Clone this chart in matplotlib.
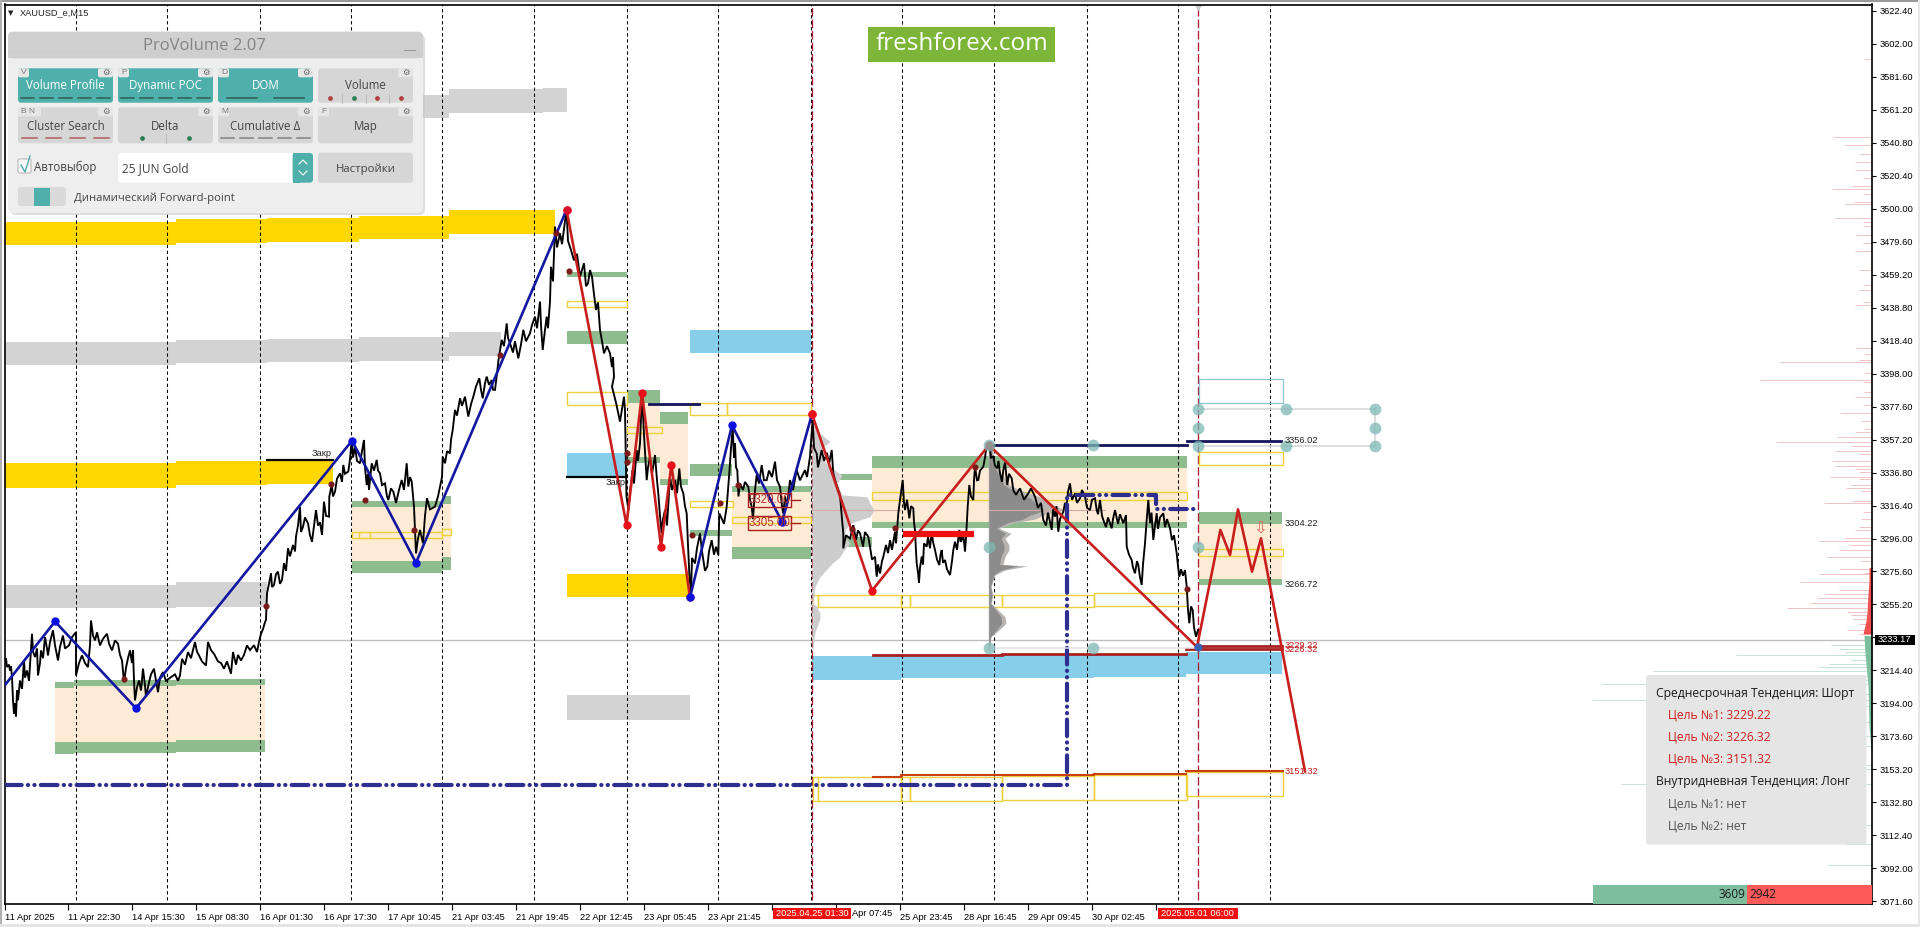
import matplotlib
matplotlib.use("Agg")
import matplotlib.pyplot as plt
from matplotlib.patches import Rectangle, FancyBboxPatch

plt.rcParams['font.family'] = ['Liberation Sans', 'DejaVu Sans']
W, H = 1920, 927

# ---------- data: (bar, price) -------------------------------------------------
trace_a = [(4.5,3219.6),(6,3222),(7,3216.5),(9,3218),(10,3214.4),(11,3217),(12,3210.3),(13,3196),(14,3187.6),(15,3194),(16,3186),(17,3202),(18,3196),(20,3208.2),(22,3203),(24,3220.6),(25,3210),(27,3214.4),(29,3208),(32,3237.1),(33,3226),(35,3222.7),(37,3228),(38,3211.3),(40,3219),(41,3226.8),(43,3222),(45,3235),(47,3228),(48,3223.7),(50,3232),(53,3239.2),(55,3230),(58,3220.6),(60,3229),(63,3236),(65,3228),(69,3229.9),(72,3235),(76,3238.1),(76,3211.3),(79,3219),(82,3223.7),(85,3219),(88,3216.5),(90,3230),(91,3245.3),(93,3236),(95,3233),(97,3238),(100,3229.9),(103,3234),(107,3237.1),(109,3231),(112,3226.8),(115,3233),(118,3230.9),(120,3224),(122,3220.6),(124,3207.2),(126,3216),(128,3222),(130,3226.8),(132,3219),(133,3226.8),(134,3208),(135,3195.9),(137,3204),(139,3208.2),(141,3202),(143,3215.5),(145,3205),(146,3198),(149,3207),(151,3212),(154,3215.5),(156,3208),(158,3201),(160,3210),(163,3213.4),(166,3208),(171,3210.3),(175,3212),(178,3208),(180,3211.3),(182,3221.6),(185,3218),(188,3225.8),(191,3222),(195,3232),(197,3226),(199,3223.7),(202,3220),(206,3217.5),(208,3232),(211,3227),(214,3224.7),(218,3220),(221,3219),(224,3215.5),(227,3220),(231,3212.4),(233,3225.8),(236,3218),(238,3224),(241,3220.6),(244,3224),(247,3229.9),(250,3227),(254,3230),(257,3225.8),(259,3232),(261,3237.1),(263,3240),(265,3244.3)]
trace_b = [(266,3245.6),(267,3262.1),(269,3268),(271,3274.5),(272,3266),(274,3267.3),(276,3274),(278,3275.5),(280,3268),(282,3270.4),(284,3280.7),(286,3276),(288,3290),(290,3285),(293,3292),(295,3288),(296,3297.2),(298,3304),(300,3315.7),(301,3300),(303,3303.3),(305,3309),(308,3305.4),(310,3298),(312,3294),(314,3304),(316,3313.6),(318,3304),(320,3306),(322,3298.2),(324,3318.8),(326,3310),(329,3309.5),(329.3,3321.9),(331.7,3329.1),(333,3322),(335,3325),(337,3333),(340,3336.3),(342,3331),(343.3,3341.5),(345,3336),(348.3,3337.4),(350,3345),(351.7,3356.9),(353,3346),(355,3352.8),(357,3344),(360,3342.5),(362,3350),(364,3356.9),(365,3340),(366.7,3329.1),(368,3336),(369,3326),(371.7,3342.5),(374,3338),(376.7,3344.6),(378,3338),(380,3336.3),(382,3329),(385,3330.1),(387,3322),(388.3,3319.8),(391,3327),(393.3,3325),(396,3318),(399,3326),(401.7,3332.2),(404,3326),(406.7,3342.5),(408.3,3328.1),(410,3334),(411.7,3331.2),(413,3322),(414,3315.7),(416,3286.8),(418,3296),(420,3301.3),(423,3293),(425,3310),(427,3320.9),(430,3314),(435,3315.7),(438,3322),(440,3328),(442,3334),(442.7,3346.6),(445,3342.5),(447,3350),(450,3348.7),(451,3357),(452.7,3363.1),(455,3375.5),(457,3372),(460,3382.7),(462,3378),(465,3383.7),(467,3376),(468.3,3371.4),(471,3379),(473.3,3383.7),(476,3390),(479.3,3395.1),(481,3388),(482.7,3382.7),(485,3392),(486.7,3396.1),(489,3391),(491.7,3394),(493,3388),(495,3387.9),(497,3398),(498.3,3405.4),(500,3412),(501.7,3418.8),(504,3415),(506.7,3429),(508,3420),(510,3416.7),(513,3411),(515,3418),(518.3,3407.4),(521,3416),(523.3,3425),(526,3418),(530,3422.9),(532,3428),(535,3433.2),(537,3426),(540,3442.5),(541,3428),(542.7,3412.6),(545,3425),(546.7,3433.2),(548,3426),(550,3442.5)]
trace_c = [(551,3464),(553,3455),(555,3488.9),(557,3476),(560,3484.7),(562,3478),(566.5,3499.2),(568,3480),(571,3474.4),(574,3468),(577,3472),(580,3457.9),(582,3462),(584,3466.2),(586,3452),(588,3453.8),(590,3462),(592,3457.9),(594,3447),(596,3437.3),(598,3442),(600,3425),(602,3418),(604,3410.5),(607,3415),(610,3410.5),(612,3402),(613,3408),(614,3396),(612,3389.9),(616,3380),(620,3368.3),(622,3376),(624,3383.7),(625,3375),(626.5,3321.9),(628.5,3313.6),(630,3325),(632.6,3338.4),(634,3330),(636.7,3350.7),(638,3344),(640,3354.9),(642,3385.8),(644,3360),(646.7,3332.1),(648,3340),(650,3346.6),(652,3336),(655,3347.6),(657,3332),(658.3,3323.9),(660,3310),(661.7,3299.2),(663,3308),(665,3313.6),(667,3304),(670,3334.2),(672,3326),(675,3332.1),(677,3324),(679.3,3339.3),(681,3328),(683.3,3323.9),(685,3316),(686.7,3311.5),(688,3292),(689.3,3274.4),(691,3262),(692,3284),(695,3280.6),(697,3290),(700,3299.2),(702,3288),(703.3,3282.7),(705,3276),(707.3,3278.6),(709,3288),(711.7,3295),(714,3286),(716,3290.9),(718.3,3285.8),(719.3,3311.5),(721.7,3308.4),(724,3305),(726.7,3315.6),(728,3326),(729.3,3336.3),(731,3352),(732.7,3364),(734,3346),(735,3354.8),(736,3340),(737.3,3338.3),(738.5,3322),(740,3330),(743,3326),(745,3331),(748.3,3328),(750,3320),(751.7,3315.6),(753,3308),(755,3326),(756.7,3335.2),(759,3330),(761.7,3341.4),(764,3332),(766.7,3332.1),(769,3338),(772,3334),(775,3343.5),(777,3332),(780,3328),(782,3316),(783.3,3311.5),(785,3322),(787,3316),(790,3332.1),(793,3326),(796.7,3338.3),(800,3332),(805,3338.3),(807,3334),(810,3346.6),(811,3356),(812.7,3369.2),(814,3352),(816.7,3348.6),(818,3340),(821.7,3350.7),(824,3344),(827,3349),(829,3342),(831.7,3350.7),(833.3,3336.3),(836,3330),(840,3322.9),(842,3308),(843.3,3299.2),(843.3,3289.9),(846,3298),(850,3296),(853.3,3304.3),(856,3295),(858,3301),(860,3299.2),(863,3291),(865,3300),(868.3,3297.1),(870,3290.9),(872,3283),(875,3284.7),(876.7,3272.4),(878,3280),(880,3274.4),(882,3282),(883.3,3284.7),(886,3292),(888,3287),(890,3295),(892,3289),(895,3300.2),(896,3293),(898.3,3311.5),(900,3319.8)]
trace_d = [(902.7,3332.2),(904,3318),(905,3313.6),(907,3320),(909.3,3308.5),(911,3316),(913.3,3314.7),(914,3306),(915,3301.3),(916,3288),(916.7,3280.7),(918,3275),(919,3268.7),(920,3278),(921.7,3284.8),(923,3280),(924,3293),(926.7,3291),(928,3297),(930,3290),(931.7,3300.2),(933,3294),(935,3288.9),(937,3283),(939.3,3279.6),(940.5,3286),(941.7,3288.9),(943,3281),(945,3282.7),(947,3277),(950,3273.4),(952,3282),(953.3,3288.9),(955,3294),(957,3289),(959.3,3301.3),(960.5,3294),(961.7,3295.1),(963,3300),(965,3287.9),(966,3296),(967.7,3315.7),(969.3,3329.1),(971,3322),(973.3,3319.8),(974,3332),(975,3340.4),(977,3332),(978.3,3332.2),(980,3338),(983.3,3340.4),(985,3346),(986,3350.7),(989.3,3354.9),(991,3346),(993.3,3346.6),(995,3341),(997.3,3339.4),(998.5,3344),(1000,3336.3),(1002,3331),(1003.3,3338.4),(1005,3343),(1007.3,3329.1),(1009,3336),(1011.7,3333.2),(1013.3,3326),(1016,3323),(1020,3327),(1024,3320),(1028.3,3323.9),(1031,3327),(1035,3321.9),(1038,3315),(1041,3318),(1043.3,3307.5),(1046,3304),(1048,3312),(1051.7,3301.3),(1053,3314),(1055,3309.5),(1056.5,3316),(1058.3,3300.2),(1060,3308),(1063.3,3312.6),(1065,3318),(1066.7,3316.7),(1068,3325),(1070,3330.1),(1072,3320),(1075,3323.9),(1077,3318),(1080,3320.9),(1082,3326),(1085,3321.9),(1087,3315),(1090,3313.6),(1092,3320),(1095,3320.9),(1096.7,3313.6),(1098,3311),(1100,3319.8),(1102,3310),(1103.3,3307.5),(1106,3303),(1108,3309),(1111.7,3302.3),(1113,3308),(1115,3313.6),(1118,3305),(1120,3311),(1123.3,3305.4),(1126,3310.5),(1126.7,3291),(1129,3286),(1131.7,3282.7),(1133,3278),(1135,3274.5),(1137,3282),(1138.3,3279.6),(1140,3272),(1141.7,3267.3),(1143,3280),(1145,3293),(1146.5,3306),(1148.3,3319.8),(1150,3305.4),(1151.5,3312),(1153.3,3295.1),(1155,3304),(1156.7,3311.6),(1158,3302),(1160,3309),(1163.3,3311.6),(1165,3303),(1167,3308),(1170,3302.3),(1172,3295),(1174,3298),(1176.7,3286.8),(1178,3279),(1179.3,3272.4),(1181,3277),(1183,3273),(1185,3276.5),(1186.7,3266.2),(1188,3252),(1189.3,3243.6),(1191,3254),(1192.7,3251.8),(1194,3241),(1196,3235.3),(1198,3239.4)]
price_trace = trace_a + trace_b + trace_c + trace_d
price_bars = [t[0] for t in price_trace]
price_vals = [t[1] for t in price_trace]

red_zz_bars = [566.5,626.5,642,661,671.4,690]
red_zz_vals = [3499.2,3304.4,3385.8,3291,3341.5,3259.6]
red_zz2_bars = [812,872,989,1197,1220.4,1230,1238,1252,1261,1305]
red_zz2_vals = [3373,3263.8,3353.8,3228.9,3301.3,3285.8,3314,3275.5,3296.1,3152]
blue_zz_bars = [4.5,55,136,352,416,566.5]
blue_zz_vals = [3205,3244.7,3191,3356.5,3281,3499.2]
blue_zz2_bars = [690,732,782,812]
blue_zz2_vals = [3259.6,3366,3306.4,3373]

gold_bands = [(4.5,175.5,3477.5,3492),(175.5,267,3479,3493.4),(267,359,3479.6,3494),(359,449,3481,3495.4),(449,555,3484.3,3499.2),
              (4.5,175.5,3327.5,3342.5),(175.5,267,3329.1,3344),(267,333,3329.7,3344.1),(567,689,3259.6,3274)]
gray_bands = [(423,449,3555.8,3570.3),(449,543,3559.3,3573.8),(543,566.5,3560,3574.4),
              (4.5,175.5,3403.3,3417.7),(175.5,267,3404.3,3418.8),(267,359,3405,3419.4),(359,449,3406,3420.4),(449,501,3409.1,3423.5),
              (4.5,175.5,3252.8,3267.3),(175.5,267,3253.9,3268.9),(567,690,3183.9,3199.2)]
blue_bands = [(567,627,3334.3,3348.7),(690,811,3410.5,3425),(812,901,3208.7,3223.3),(901,1094,3209.7,3224.1),(1094,1186,3210.3,3224.7),(1186,1282,3212,3225.8)]
peach_bands = [(55,74,3170.1,3203.5),(74,175.5,3170.1,3204.7),(175.5,264.5,3171.1,3205.4),(352,442,3282.1,3315.7),(442,451,3284.8,3317.1),
               (626.5,660,3346.6,3380),(660,688,3332.8,3366.8),(732,811,3291,3325),(872,1187,3306.4,3339.4),(1198.5,1282,3270.8,3305)]
green_bands = [(55,74,3203.5,3207.2),(74,175.5,3204.7,3208.2),(175.5,264.5,3205.4,3209),(55,74,3162.9,3170.1),(74,175.5,3163.5,3170.1),(175.5,264.5,3164.1,3171.1),
               (352,442,3315.7,3319.2),(442,451,3317.1,3322.3),(352,442,3274.9,3282.1),(442,451,3276.5,3284.8),
               (567,626.5,3416.5,3424.3),(567,626.5,3458,3461),(626.5,660,3380,3387.8),(660,688,3366.8,3374.4),(626.5,660,3342.9,3346.6),(660,688,3329.1,3332.8),
               (690,732,3334.9,3342),(690,732,3297.6,3301.3),(732,811,3325,3328.5),(732,811,3283.3,3291),(824,872,3332.2,3335.9),(842,872,3291,3297),
               (872,1187,3339.4,3347.2),(872,1187,3302.3,3306.4),(1198.5,1282,3305,3312.2),(1198.5,1282,3267.3,3270.8)]
yellow_boxes = [(567,626.5,3439,3442.9),(567,626.5,3378.6,3386.4),(626.5,661.6,3361,3365.2),(352,442,3296.5,3300.2),(359,370,3296.5,3300.2),(442,451,3298,3302),
                (690,726.5,3372.4,3379.6),(726.5,811,3372.4,3379.6),(690,733,3315.7,3319.4),(732,811,3305.4,3309.5),(872,901,3319.8,3324.6),(901,1187,3319.8,3324.6),
                (813,818,3253.5,3261.1),(818,901,3253.5,3261.1),(901,910,3253.5,3261.1),(910,1002.4,3253.5,3261.1),(1002.4,1094,3253.5,3261.1),(1094,1187,3254,3262),
                (1198.5,1283,3341.5,3349.3),(1198.5,1283,3285.4,3289.5),
                (813,818,3133.4,3148.5),(818,901,3133.4,3148.5),(901,910,3133.4,3148.5),(910,1002.4,3133.4,3148.5),(1002.4,1094,3134,3149.3),(1094,1187,3134,3150),(1186,1283,3136.5,3151.6)]
teal_boxes = [(1198.5,1283,3379.6,3394.4)]

dark_red_segments = [(872.6,901,3223.7),(901,1002,3224.1),(1002,1186,3224.7),(1186,1282,3227.4),(1198,1282,3229.5)]
orange_red_segments = [(872.6,901,3148.7),(901,1094,3149.5),(1094,1186,3150.1),(1186,1283,3152)]
navy_segments = [(649,699,3379.4),(991,1187,3354),(1187,1281,3356.3)]
black_segments = [(267,333,3344.6),(567,627,3334)]
dash_dot_bars = [4.5,1066.5,1066.5,1156,1156,1195]
dash_dot_vals = [3143.7,3143.7,3323,3323,3314,3314]
red_bar = (902.5,973.5,3298.8)

teal_dots_x = [989,989,989,1093,1093,1198,1198,1198,1198,1286,1286,1375,1375,1375]
teal_dots_y = [3353.8,3291,3228.2,3353.8,3228.2,3375.9,3364.5,3353.4,3291,3375.9,3353.4,3375.9,3364.5,3353.4]
small_dots_x = [364.5,500,266,331,414,124,626.5,626.5,556,569,692,738,895,975,1187,720,852]
small_dots_y = [3319.6,3409.5,3254.3,3330,3301.3,3208.9,3349,3343,3484.7,3461.6,3298,3329,3302.3,3340.4,3264.6,3317.8,3302]

vline_bars = [75.5,167,259.6,351.4,442,534,626.5,718.4,810.6,902.4,994.3,1086.5,1178.4,1270.2]
red_vline_bars = [811.8,1198.4]
current_price = 3233.17

profile1_p = [3373,3361,3356,3352,3347.6,3342,3335,3330,3323,3321.8,3317.7,3313.6,3309.5,3305.4,3301.2,3297.1,3293,3288.9,3284.7,3280.6,3276.5,3272.4,3266.2,3255.9,3254,3249.7,3246.6,3238,3225]
profile1_w = [0,8,18,10,8,15,30,25,30,55,58,62,58,38,33,33,38,32,28,20,14,8,3,1,5,8,8,3,0]
profile2_p = [3354,3342.5,3336.3,3329.1,3325,3320.9,3316.7,3313.6,3310.5,3307.9,3305.8,3302.3,3299.2,3296.1,3292,3288.9,3284.8,3280,3279,3276.5,3273.4,3266.2,3261,3256,3247.7,3243.6,3239.4,3235.3,3231]
profile2_w = [3,5,12,20,35,55,65,75,55,45,25,10,22,16,20,20,16,14,38,16,6,2,4,2,16,17,10,2,1]
poc_lines = [(812,900,3313.6),(989,1105,3313.6)]

dom_ask_p = [3592.3,3544.1,3539.1,3533.6,3528.6,3523.7,3518.7,3513.8,3512.3,3508.8,3504.3,3502.9,3494,3491.9,3489.3,3483.7,3478.8,3474,3461.9,3452.8,3449.9,3442.1,3440.2,3413.6,3409.9,3404.9,3406.4,3398.1,3393.8,3392.6,3386.8,3383.7,3378.6,3373.8,3368.9,3363.7,3361.7,3358.8,3355.7,3353.2,3349.9,3348.3,3343.7,3340.8,3338.8,3337.3,3334,3332.6,3329.1,3327.4,3325.6,3317.8,3319.2,3312.6,3307.9,3303.3,3301.3,3296.5,3294.3,3292,3288.9,3284.8,3282.3,3277,3273.9,3269,3274.5,3264.2,3261.7,3259,3256,3252.8,3250.8,3248.7,3246.4,3242.9,3239.2,3237]
dom_ask_w = [8,39,27,12,17,17,9,20,40,9,18,27,37,9,9,16,9,17,13,9,13,9,17,16,8,92,13,8,112,9,8,17,9,32,11,8,17,35,96,21,37,13,40,37,17,13,42,13,21,26,11,48,20,9,11,13,17,27,53,23,33,45,11,32,53,72,9,33,47,55,62,85,25,21,19,13,25,13]
dom_bid_p = [3229.9,3227.8,3225.8,3223.7,3220.6,3218.5,3216.5,3214,3210.7,3208.7,3205.8,3200,3195.9,3192.2,3182.5,3173.6,3168,3155.7,3153.6,3143.9,3118.6,3106.8,3093.9]
dom_bid_w = [41,33,27,136,21,43,53,219,21,11,271,21,280,55,37,76,9,11,29,251,47,27,45]
dom_ask_base_p = [3278,3270,3262,3250,3245,3237]
dom_ask_base_w = [3,3,4,5,6,9]
dom_bid_base_p = [3236,3225,3205,3180,3165]
dom_bid_base_w = [8,7,4,3,1]

ytick_vals = [3622.4,3602.0,3581.6,3561.2,3540.8,3520.4,3500.0,3479.6,3459.2,3438.8,3418.4,3398.0,3377.6,3357.2,3336.8,3316.4,3296.0,3275.6,3255.2,3234.8,3214.4,3194.0,3173.6,3153.2,3132.8,3112.4,3092.0,3071.6]
ytick_labels = [f'{v:.2f}' for v in ytick_vals]
xtick_bars = [5,68,132,196,260,324,388,452,516,580,644,708,772,836,900,964,1028,1092,1156]
xtick_labels = ['11 Apr 2025','11 Apr 22:30','14 Apr 15:30','15 Apr 08:30','16 Apr 01:30','16 Apr 17:30','17 Apr 10:45','21 Apr 03:45','21 Apr 19:45','22 Apr 12:45','23 Apr 05:45','23 Apr 21:45','','','25 Apr 23:45','28 Apr 16:45','29 Apr 09:45','30 Apr 02:45','']

right_labels = [(1285,3356.7,'3356.02','#222222'),(1285,3305.4,'3304.22','#222222'),(1285,3267.7,'3266.72','#222222'),(1285,3229.9,'3229.22','#c01a1a'),(1285,3227.2,'3226.32','#c01a1a'),(1285,3152,'3151.32','#c01a1a')]
box_labels = [(769.5,3319.6,'3320.00'),(769.5,3305.4,'3305.00')]
trend_lines = [('Среднесрочная Тенденция: Шорт',0,'#1a1a1a'),('Цель №1: 3229.22',1,'#d02020'),('Цель №2: 3226.32',1,'#d02020'),('Цель №3: 3151.32',1,'#d02020'),('Внутридневная Тенденция: Лонг',0,'#1a1a1a'),('Цель №1: нет',1,'#555555'),('Цель №2: нет',1,'#555555')]
buy_volume, sell_volume = 3609, 2942

# ---------- main chart --------------------------------------------------------
fig = plt.figure(figsize=(W/100, H/100), dpi=100, facecolor='white')
ax = fig.add_axes([4.5/W, 1-904/H, (1872-4.5)/W, (904-4.5)/H])
ax.set_xlim(4.5, 1872)
ax.set_ylim(3070, 3626.2)

def bands(items, color, z):
    for x0, x1, lo, hi in items:
        ax.add_patch(Rectangle((x0, lo), x1-x0, hi-lo, fc=color, ec='none', zorder=z))

bands(peach_bands, '#FDEBD5', 1)
bands(green_bands, '#8FBC8F', 1.2)
bands(gold_bands, '#FFD700', 1.1)
bands(gray_bands, '#D3D3D3', 1.1)
bands(blue_bands, '#87CEEB', 1.1)
for x0, x1, lo, hi in yellow_boxes:
    ax.add_patch(Rectangle((x0, lo), x1-x0, hi-lo, fc='none', ec='#EFD13C', lw=1.0, zorder=2))
for x0, x1, lo, hi in teal_boxes:
    ax.add_patch(Rectangle((x0, lo), x1-x0, hi-lo, fc='none', ec='#8FC5D0', lw=0.9, zorder=2))

ax.vlines(vline_bars, 3072.5, 3626.2, color='black', lw=0.75, linestyles=(0, (3.2, 2.6)), zorder=1.5)
ax.vlines(red_vline_bars, 3072.5, 3626.2, color='#A82035', lw=0.95, linestyles=(0, (6.5, 2.2)), zorder=1.6)
ax.plot(1198.4, 3624.6, marker='v', ms=5, color='#C8C8C8', zorder=1.7)
ax.axhline(current_price, color='#BEBEBE', lw=1, zorder=1.4)

ax.fill_betweenx(profile1_p, 812, [812+w for w in profile1_w], color='#CDCDCD', lw=0, zorder=2.5)
ax.fill_betweenx(profile2_p, 989, [989+w for w in profile2_w], color='#B8B4B2', lw=0, zorder=2.5)
ax.fill_betweenx(profile2_p, 989, [989+w*0.75 for w in profile2_w], color='#8C8C8C', lw=0, zorder=2.55)
ax.plot([989, 989], [3228, 3355], color='#A0A0A0', lw=1, zorder=2.4)
for x0, x1, p in poc_lines:
    ax.plot([x0, x1], [p, p], color='#D8A8A8', lw=0.8, zorder=2.6)

ax.plot(price_bars, price_vals, color='black', lw=1.35, zorder=3, solid_joinstyle='miter')

for x0, x1, p in dark_red_segments:
    ax.plot([x0, x1], [p, p], color='#A82020', lw=2, zorder=3.1)
for x0, x1, p in orange_red_segments:
    ax.plot([x0, x1], [p, p], color='#C8400F', lw=1.5, zorder=3.1)
for x0, x1, p in navy_segments:
    ax.plot([x0, x1], [p, p], color='#14145A', lw=2, zorder=3.1)
for x0, x1, p in black_segments:
    ax.plot([x0, x1], [p, p], color='black', lw=1.6, zorder=3.1)
ax.plot(red_bar[:2], [red_bar[2]]*2, color='#F01010', lw=4.5, zorder=3.2, solid_capstyle='butt')
ax.plot(dash_dot_bars, dash_dot_vals, color='#2E2E90', lw=3, zorder=3.3,
        linestyle=(0, (4, 1.5, 0.05, 1.5, 0.05, 1.5)), dash_capstyle='round')

ax.plot(red_zz_bars, red_zz_vals, color='#C81E1E', lw=1.9, marker='o', ms=5, mfc='#E8101A', mec='#E8101A', zorder=4)
ax.plot(red_zz2_bars[:3], red_zz2_vals[:3], color='#C81E1E', lw=1.9, marker='o', ms=5, mfc='#E8101A', mec='#E8101A', zorder=4)
ax.plot(red_zz2_bars[2:], red_zz2_vals[2:], color='#C81E1E', lw=1.9, zorder=4)
ax.plot(blue_zz_bars, blue_zz_vals, color='#1418A0', lw=1.9, zorder=4.1)
ax.plot(blue_zz_bars[1:-1], blue_zz_vals[1:-1], ls='none', marker='o', ms=5, color='#0A10E0', zorder=4.2)
ax.plot(blue_zz2_bars, blue_zz2_vals, color='#1418A0', lw=1.9, zorder=4.1)
ax.plot(blue_zz2_bars[:-1], blue_zz2_vals[:-1], ls='none', marker='o', ms=5, color='#0A10E0', zorder=4.2)
ax.plot(blue_zz2_bars[-1], blue_zz2_vals[-1], marker='o', ms=5, color='#E8101A', zorder=4.3)
ax.plot(566.5, 3499.2, marker='o', ms=5, color='#D8102A', zorder=4.3)

ax.plot([1198, 1375], [3375.9, 3375.9], color='#D4D4D4', lw=1.1, zorder=4.4)
ax.plot([1198, 1375], [3353.4, 3353.4], color='#D4D4D4', lw=1.1, zorder=4.4)
ax.plot([1375, 1375], [3353.4, 3375.9], color='#D4D4D4', lw=1.1, zorder=4.4)
ax.plot([989, 1198], [3228.2, 3228.2], color='#E2E2E2', lw=1.1, zorder=4.4)
ax.plot(teal_dots_x, teal_dots_y, ls='none', marker='o', ms=8.5, mfc='#7DB9B5', mec='none', alpha=0.75, zorder=5)
ax.plot(1198, 3228.9, marker='o', ms=5, color='#3A62B0', zorder=5.1)
ax.plot(small_dots_x, small_dots_y, ls='none', marker='o', ms=3.4, color='#7A1A1A', zorder=4.5)

ax.hlines(dom_ask_p, [1872-w for w in dom_ask_w], 1872, color='#E08A8A', lw=0.7, alpha=0.5, zorder=2)
ax.hlines(dom_bid_p, [1872-w for w in dom_bid_w], 1872, color='#8CC8AC', lw=0.7, alpha=0.5, zorder=2)
ax.fill_betweenx(dom_ask_base_p, [1872-w for w in dom_ask_base_w], 1872, color='#F25050', lw=0, zorder=2.1)
ax.fill_betweenx(dom_bid_base_p, [1872-w for w in dom_bid_base_w], 1872, color='#7CBF9E', lw=0, zorder=2.1)

for x, p, s, c in right_labels:
    ax.text(x, p, s, fontsize=6.7, color=c, va='center', ha='left', zorder=6)
ax.text(1260, 3303, '⇩', family='DejaVu Sans', fontsize=12, color='#E06A60', ha='center', va='center', zorder=6)
ax.text(322, 3348.5, 'Закр', fontsize=6.7, color='#222222', ha='center', va='center', zorder=6)
ax.text(616, 3330.5, 'Закр', fontsize=6.7, color='#222222', ha='center', va='center', zorder=6)
for x, p, s in box_labels:
    ax.text(x, p, s, fontsize=8.3, color='#B43030', ha='center', va='center', zorder=6,
            bbox=dict(boxstyle='square,pad=0.08', fc='none', ec='#A82020', lw=1))
    ax.plot([790.7, 800], [p, p], color='#A82020', lw=1, zorder=6)

for s in ax.spines.values():
    s.set_linewidth(1.2)
ax.yaxis.tick_right()
ax.set_yticks(ytick_vals)
ax.set_yticklabels(ytick_labels, fontsize=6.7)
ax.tick_params(axis='y', length=3, width=0.8, pad=2.5)
ax.set_xticks(xtick_bars)
ax.set_xticklabels(xtick_labels, fontsize=6.7, ha='left')
ax.tick_params(axis='x', length=4, width=0.8, pad=2.5)

# ---------- overlay in pixel coordinates -------------------------------------
ui = fig.add_axes([0, 0, 1, 1], zorder=10)
ui.set_xlim(0, W); ui.set_ylim(H, 0); ui.axis('off')

def rbox(x0, y0, x1, y1, fc, r=3, ec='none', lw=0, z=1, alpha=None):
    ui.add_patch(FancyBboxPatch((x0, y0), x1-x0, y1-y0, boxstyle=f'round,pad=0,rounding_size={r}', fc=fc, ec=ec, lw=lw, zorder=z, alpha=alpha))
def rect(x0, y0, x1, y1, fc, z=1):
    ui.add_patch(Rectangle((x0, y0), x1-x0, y1-y0, fc=fc, ec='none', zorder=z))
def txt(x, y, s, fs, c='#333333', ha='left', fam='Open Sans', z=5, **kw):
    ui.text(x, y, s, fontsize=fs, color=c, ha=ha, va='center', family=[fam, 'DejaVu Sans'], zorder=z, **kw)

rect(0, 0, W, 1.5, '#9A9A9A'); rect(0, 0, 2, H, '#B0B0B0'); rect(0, 924, W, H, '#E4E4E4'); rect(W-2, 0, W, H, '#E8E8E8')

# time flags and price flag
for x0, x1, s in [(772.6, 851.4, '2025.04.25 01:30'), (1157.5, 1238, '2025.05.01 06:00')]:
    rect(x0, 908, x1, 919, '#F01010', 2)
    ui.text((x0+x1)/2, 913.7, s, fontsize=6.7, color='white', ha='center', va='center', zorder=3)
ui.text(851.8, 913.7, 'Apr 07:45', fontsize=6.7, color='black', ha='left', va='center', zorder=3)
rect(1874.7, 635, 1914.7, 645, 'black', 2)
ui.text(1894.7, 640, f'{current_price:.2f}', fontsize=6.7, color='white', ha='center', va='center', zorder=3)

txt(8, 12.7, '▼', 5, '#222222', fam='DejaVu Sans')
ui.text(19.6, 12.7, 'XAUUSD_e,M15', fontsize=6.7, color='#222222', va='center')

# logo
rect(868, 27, 1055, 61.7, '#7CB538')
txt(961.5, 43.5, 'freshforex.com', 17.5, 'white', ha='center')

# trend panel
rbox(1646, 675, 1866.5, 844.7, '#E4E4E4', z=1, alpha=0.93)
for (s, ind, c), y in zip(trend_lines, [693.7, 715.3, 737, 759.3, 781.3, 803.7, 825.7]):
    txt(1667.8 if ind else 1655.5, y, s, 8.7, c)

# buy / sell bar
rect(1593, 884.7, 1746.5, 904, '#7EBE9C', 2)
rect(1746.5, 884.7, 1872, 904, '#FF5A5A', 2)
txt(1745, 894.5, str(buy_volume), 8.5, '#1a1a1a', ha='right')
txt(1749, 894.5, str(sell_volume), 8.5, '#1a1a1a')

# ProVolume panel
rbox(10, 34, 425, 215, '#C8C8C8', r=6, z=1, alpha=0.6)
rbox(8, 31.7, 423, 213, '#EEEEEE', r=6, z=1.1)
rbox(8, 31.7, 423, 58.3, '#D0D0D0', r=5, z=1.2)
rect(8, 50, 423, 58.3, '#CECECE', 1.2)
txt(204, 46, 'ProVolume 2.07', 12, '#858585', ha='center')
rect(404, 49.5, 416, 51, '#9A9A9A', 1.3)

cols = [(18, 113), (118, 213), (218, 313), (318, 413)]
rows = [(68.3, 102.7), (107.3, 143.3)]
names = [['Volume Profile', 'Dynamic POC', 'DOM', 'Volume'], ['Cluster Search', 'Delta', 'Cumulative Δ', 'Map']]
tabs = [['V', 'P', 'D', ''], ['B N', '', 'M', 'F']]
teal = '#4FB0AB'
marks = [[('d',5,'#2E5F50'),('d',5,'#2E5F50'),('d',2,'#2E5F50'),('o',4,None)], [('l',4,'#B06060'),('o',2,None),('l',5,'#808080'),None]]
for r, (y0, y1) in enumerate(rows):
    for c, (x0, x1) in enumerate(cols):
        on = r == 0 and c < 3
        fc = teal if on else '#D6D6D6'
        rbox(x0, y0, x1, y1, fc, r=3, z=2)
        txt((x0+x1)/2, y0+(17.5 if r == 0 else 18.7), names[r][c], 8.3, 'white' if on else '#444444', ha='center')
        rbox(x1-15, y0, x1, y0+9, '#E6E6E6', r=2, z=2.2)
        ui.text(x1-7.5, y0+4.5, '⚙', fontsize=6, color='#666666', family='DejaVu Sans', ha='center', va='center', zorder=3)
        if tabs[r][c]:
            rbox(x0, y0, x0+6*len(tabs[r][c])+5, y0+9, '#E6E6E6', r=2, z=2.2)
            ui.text(x0+3, y0+4.5, tabs[r][c], fontsize=6, color='#777777', va='center', zorder=3)
        m = marks[r][c]
        if m:
            kind, n, col = m
            step = (x1-x0)/n
            for i in range(n):
                xc = x0+step*(i+.5)
                if kind == 'o':
                    ui.plot(xc, y1-5, marker='o', ms=2.4, color='#B04040' if i != 1 and not (r and i == 0) else '#2E7D4F', zorder=3)
                    if i: ui.plot([x0+step*i]*2, [y1-9, y1], color='#BBBBBB', lw=0.7, zorder=3)
                else:
                    ui.plot([xc-step*.32, xc+step*.32], [y1-5, y1-5], color=col, lw=1.1, zorder=3)

rbox(18, 159, 31, 173, '#F6F6F6', r=1.5, ec='#BBBBBB', lw=0.8, z=2)
ui.plot([21, 25, 30], [165, 172, 156], color=teal, lw=1, zorder=3)
txt(34, 167, 'Автовыбор', 8.3, '#444444')
rbox(118, 153, 313, 182.7, 'white', r=3, z=2)
rbox(292.6, 153, 313, 182.7, teal, r=3, z=2.1)
rect(292.6, 153, 300, 182.7, teal, 2.1)
ui.plot([299, 303, 307], [164, 160, 164], color='white', lw=0.8, zorder=3)
ui.plot([299, 303, 307], [171, 175, 171], color='white', lw=0.8, zorder=3)
txt(122, 169, '25 JUN Gold', 8.6, '#444444')
rbox(318, 152.7, 413, 182.7, '#D6D6D6', r=3, z=2)
txt(365.5, 169, 'Настройки', 8.2, '#444444', ha='center')
rbox(18, 187, 66, 206, '#DADADA', r=3, z=2)
rect(34, 187.5, 50, 205.5, teal, 2.1)
txt(73.5, 198, 'Динамический Forward-point', 8.15, '#444444')

fig.savefig('out.png', dpi=100)
